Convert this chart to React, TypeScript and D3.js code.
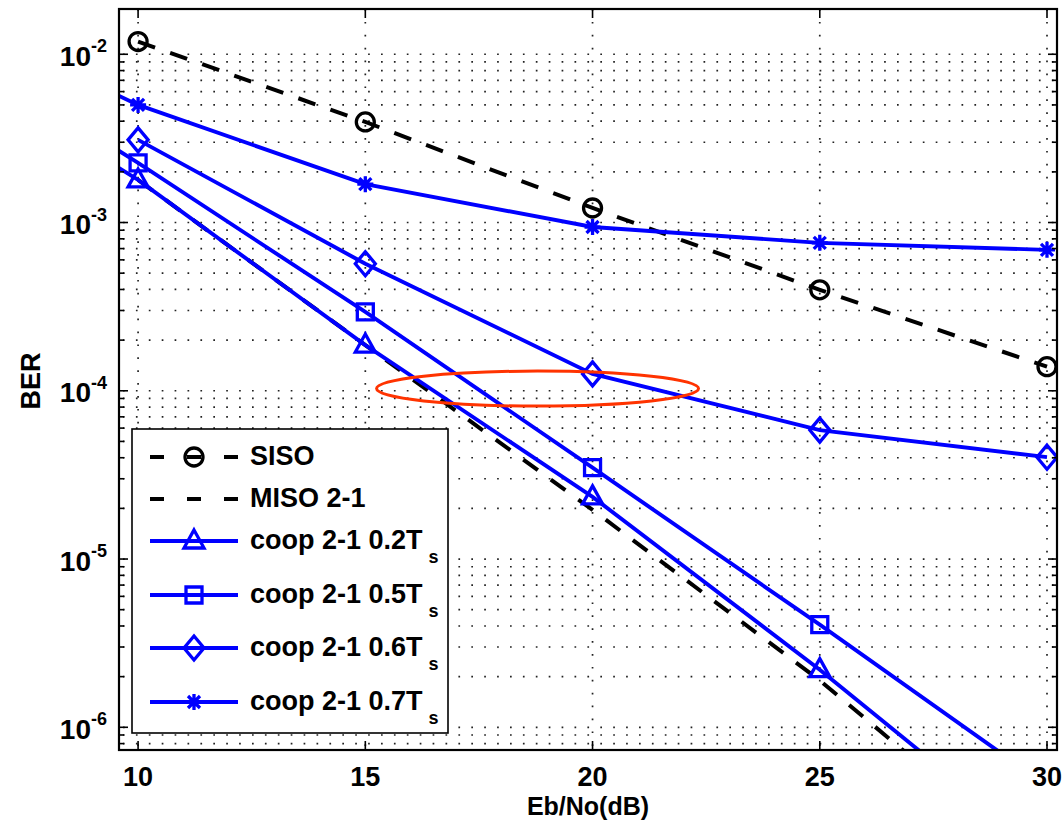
import React, { useEffect, useRef } from "react";
import * as d3 from "d3";

// Eb/No sample points (dB); the 5 dB point sits left of the visible axis
const SNR_DB = [5, 10, 15, 20, 25, 30];

// BER
const BER_SISO = [null, 1.19e-2, 3.96e-3, 1.22e-3, 3.98e-4, 1.39e-4];
const BER_MISO = [null, 1.79e-3, 1.87e-4, 1.96e-5, 1.9e-6, 1.4e-7];
const BER_COOP_02 = [1.27e-2, 1.79e-3, 1.87e-4, 2.34e-5, 2.2e-6, 1.75e-7];
const BER_COOP_05 = [1.6e-2, 2.26e-3, 2.94e-4, 3.49e-5, 4.07e-6, 4.5e-7];
const BER_COOP_06 = [null, 3.1e-3, 5.69e-4, 1.26e-4, 5.84e-5, 4.03e-5];
const BER_COOP_07 = [2.2e-2, 5.0e-3, 1.69e-3, 9.4e-4, 7.57e-4, 6.88e-4];

const LEGEND_LABELS = [
  "SISO",
  "MISO 2-1",
  "coop 2-1 0.2T_s",
  "coop 2-1 0.5T_s",
  "coop 2-1 0.6T_s",
  "coop 2-1 0.7T_s"
];

// axis
const X_DOMAIN = [9.58, 30.22];
const X_TICKS = [10, 15, 20, 25, 30];
const Y_DOMAIN = [Math.pow(10, -6.135), Math.pow(10, -1.731)];
const Y_DECADES = [-6, -5, -4, -3, -2];

// red ellipse highlight (centre in data units)
const HIGHLIGHT = { db: 18.79, ber: 1.03e-4 };

const FONT = "'Liberation Sans', Arial, Helvetica, sans-serif";
const BLUE = "#0000ff";

const box = { left: 119, top: 9, right: 1057, bottom: 750 };

const series = [
  { values: BER_SISO, color: "#000", dash: "18,16", width: 4, marker: "circle" },
  { values: BER_MISO, color: "#000", dash: "18,16", width: 4, marker: null },
  { values: BER_COOP_02, color: BLUE, dash: null, width: 3.9, marker: "triangle" },
  { values: BER_COOP_05, color: BLUE, dash: null, width: 3.9, marker: "square" },
  { values: BER_COOP_06, color: BLUE, dash: null, width: 3.9, marker: "diamond" },
  { values: BER_COOP_07, color: BLUE, dash: null, width: 3.9, marker: "star" }
];

function markerPath(kind) {
  switch (kind) {
    case "circle": {
      const p = d3.path();
      p.arc(0, 0, 9, 0, 2 * Math.PI);
      return p.toString();
    }
    case "triangle":
      return "M0,-11L10,7L-10,7Z";
    case "square":
      return "M-8,-8H8V8H-8Z";
    case "diamond":
      return "M0,-12L10,0L0,12L-10,0Z";
    case "star":
      return "M-8,0H8M0,-8V8M-6,-6L6,6M-6,6L6,-6";
    default:
      return "";
  }
}

export default function App() {
  const ref = useRef(null);

  useEffect(() => {
    const svg = d3.select(ref.current);
    svg.selectAll("*").remove();

    const x = d3.scaleLinear().domain(X_DOMAIN).range([box.left, box.right]);
    const y = d3.scaleLog().domain(Y_DOMAIN).range([box.bottom, box.top]);
    const w = box.right - box.left;
    const h = box.bottom - box.top;

    svg
      .append("rect")
      .attr("width", 1064)
      .attr("height", 825)
      .attr("fill", "#fff");

    svg
      .append("defs")
      .append("clipPath")
      .attr("id", "plot-clip")
      .append("rect")
      .attr("x", box.left)
      .attr("y", box.top)
      .attr("width", w)
      .attr("height", h);

    // y grid values: every 1..9 x decade inside the domain
    const yGrid = [];
    for (let d = -7; d <= -1; d++) {
      for (let m = 1; m <= 9; m++) {
        const v = m * Math.pow(10, d);
        if (v >= Y_DOMAIN[0] && v <= Y_DOMAIN[1]) yGrid.push({ v, major: m === 1 });
      }
    }

    // dotted grid
    const grid = svg.append("g").attr("stroke", "#222").attr("stroke-width", 1.7);
    grid
      .selectAll(".hgrid")
      .data(yGrid)
      .enter()
      .append("line")
      .attr("x1", box.left + 4)
      .attr("x2", box.right)
      .attr("y1", d => y(d.v))
      .attr("y2", d => y(d.v))
      .attr("stroke-dasharray", "1.7,11.2");
    grid
      .selectAll(".vgrid")
      .data(X_TICKS)
      .enter()
      .append("line")
      .attr("x1", d => x(d))
      .attr("x2", d => x(d))
      .attr("y1", box.top)
      .attr("y2", box.bottom)
      .attr("stroke-dasharray", "1.7,11.2");

    // curves
    const plot = svg.append("g").attr("clip-path", "url(#plot-clip)");
    const line = d3
      .line()
      .defined(d => d[1] != null)
      .x(d => x(d[0]))
      .y(d => y(d[1]));

    series.forEach(s => {
      const pts = SNR_DB.map((db, i) => [db, s.values[i]]);
      plot
        .append("path")
        .attr("d", line(pts))
        .attr("fill", "none")
        .attr("stroke", s.color)
        .attr("stroke-width", s.width)
        .attr("stroke-dasharray", s.dash);
      if (s.marker) {
        plot
          .selectAll(null)
          .data(pts.filter(p => p[1] != null))
          .enter()
          .append("path")
          .attr("transform", p => `translate(${x(p[0])},${y(p[1])})`)
          .attr("d", markerPath(s.marker))
          .attr("fill", "none")
          .attr("stroke", s.color)
          .attr("stroke-width", 3.3);
      }
    });

    // ellipse annotation
    svg
      .append("ellipse")
      .attr("cx", x(HIGHLIGHT.db))
      .attr("cy", y(HIGHLIGHT.ber))
      .attr("rx", 161)
      .attr("ry", 17.5)
      .attr("fill", "none")
      .attr("stroke", "#ff3300")
      .attr("stroke-width", 3);

    // axes box and ticks
    const axes = svg.append("g").attr("stroke", "#000").attr("stroke-width", 1.6);
    axes
      .append("rect")
      .attr("x", box.left)
      .attr("y", box.top)
      .attr("width", w)
      .attr("height", h)
      .attr("fill", "none")
      .attr("stroke-width", 2.2);
    X_TICKS.forEach(t => {
      axes.append("line").attr("x1", x(t)).attr("x2", x(t)).attr("y1", box.bottom).attr("y2", box.bottom - 9);
      axes.append("line").attr("x1", x(t)).attr("x2", x(t)).attr("y1", box.top).attr("y2", box.top + 9);
    });
    yGrid.forEach(g => {
      const len = g.major ? 9 : 5;
      axes.append("line").attr("x1", box.left).attr("x2", box.left + len).attr("y1", y(g.v)).attr("y2", y(g.v));
      axes.append("line").attr("x1", box.right).attr("x2", box.right - len).attr("y1", y(g.v)).attr("y2", y(g.v));
    });

    // tick labels
    const labels = svg
      .append("g")
      .attr("font-family", FONT)
      .attr("font-weight", "bold")
      .attr("fill", "#000");
    labels
      .selectAll(".xt")
      .data(X_TICKS)
      .enter()
      .append("text")
      .attr("x", d => x(d))
      .attr("y", 786)
      .attr("text-anchor", "middle")
      .attr("font-size", 27)
      .text(d => d);

    const yt = labels
      .selectAll(".yt")
      .data(Y_DECADES)
      .enter()
      .append("text")
      .attr("x", 107)
      .attr("y", d => y(Math.pow(10, d)) + 11.5)
      .attr("text-anchor", "end")
      .attr("font-size", 28);
    yt.append("tspan").text("10");
    yt.append("tspan")
      .attr("dy", -13.5)
      .attr("font-size", 18)
      .text(d => `${d}`);

    labels
      .append("text")
      .attr("x", (box.left + box.right) / 2)
      .attr("y", 815)
      .attr("text-anchor", "middle")
      .attr("font-size", 25)
      .text("Eb/No(dB)");
    labels
      .append("text")
      .attr("transform", `translate(40, 381) rotate(-90)`)
      .attr("text-anchor", "middle")
      .attr("font-size", 27)
      .text("BER");

    // legend
    const lg = svg.append("g");
    lg.append("rect")
      .attr("x", 132)
      .attr("y", 429)
      .attr("width", 316)
      .attr("height", 304)
      .attr("fill", "#fff")
      .attr("stroke", "#000")
      .attr("stroke-width", 1.6);
    const rowY = [457, 499, 541, 595, 648, 702];
    series.forEach((s, i) => {
      const ly = rowY[i];
      lg.append("line")
        .attr("x1", 150)
        .attr("x2", 238)
        .attr("y1", ly)
        .attr("y2", ly)
        .attr("stroke", s.color)
        .attr("stroke-width", s.width)
        .attr("stroke-dasharray", s.dash ? "14,23" : null);
      if (s.marker) {
        lg.append("path")
          .attr("transform", `translate(194,${ly})`)
          .attr("d", markerPath(s.marker))
          .attr("fill", "none")
          .attr("stroke", s.color)
          .attr("stroke-width", 3.3);
      }
      const [main, sub] = LEGEND_LABELS[i].split("_");
      const t = lg
        .append("text")
        .attr("x", 250)
        .attr("y", ly + 8)
        .attr("font-family", FONT)
        .attr("font-weight", "bold")
        .attr("font-size", 27)
        .attr("fill", "#000");
      t.append("tspan").text(main);
      if (sub) {
        t.append("tspan").attr("dx", 6).attr("dy", 14).attr("font-size", 18).text(sub);
      }
    });
  }, []);

  return (
    <svg
      ref={ref}
      width={1064}
      height={825}
      style={{ position: "absolute", left: 0, top: 0, display: "block" }}
    />
  );
}
